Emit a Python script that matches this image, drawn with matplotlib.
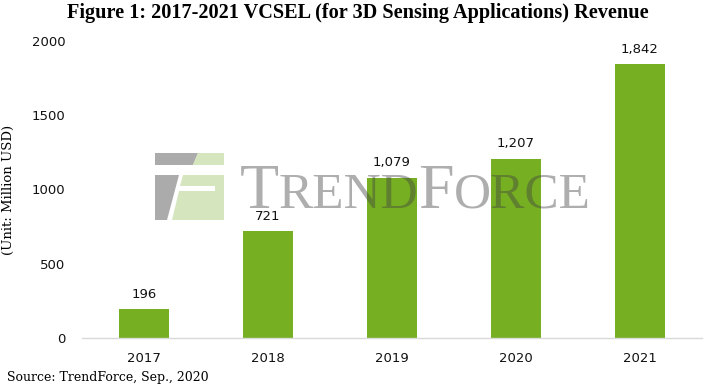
import matplotlib
matplotlib.use("Agg")
import matplotlib.pyplot as plt
from matplotlib.patches import Polygon

years = ["2017", "2018", "2019", "2020", "2021"]
revenue = [196, 721, 1079, 1207, 1842]
yticks = [0, 500, 1000, 1500, 2000]

W, H = 710, 386
fig = plt.figure(figsize=(W / 100, H / 100), dpi=100)
ax = fig.add_axes([82 / W, 1 - 338 / H, 620 / W, (338 - 41) / H])

x = range(len(years))
ax.bar(x, revenue, width=0.4, color="#76AF22", zorder=2)
for xi, v in zip(x, revenue):
    ax.annotate(f"{v:,}", (xi, v), xytext=(0, 6), textcoords="offset points",
                ha="center", va="bottom", fontsize=9.5, family="DejaVu Sans", color="#111111")

ax.set_xlim(-0.5, len(years) - 0.5)
ax.set_ylim(0, 2000)
ax.set_yticks(yticks)
ax.set_yticklabels([str(t) for t in yticks])
ax.set_xticks(list(x))
ax.set_xticklabels(years)
ax.tick_params(axis="both", length=0, labelsize=9.5, colors="#111111")
ax.tick_params(axis="y", pad=12)
ax.tick_params(axis="x", pad=10)
for s in ["top", "right", "left"]:
    ax.spines[s].set_visible(False)
ax.spines["bottom"].set_color("#D9D9D9")
ax.spines["bottom"].set_linewidth(1)

ax.set_ylabel("(Unit: Million USD)", family="DejaVu Serif", fontsize=9.5, labelpad=12)

# watermark (semi-transparent, on top of the bars)
def px(x, y):
    return (x / W, 1 - y / H)

gray = "#ABABAB"
lgreen = "#D5E6BF"
logo_gray = [[(155, 153), (198, 153), (193, 165), (155, 165)],
             [(155, 175), (179, 175), (167, 220), (155, 220)]]
logo_green = [[(198, 153), (224, 153), (224, 165), (193, 165)],
              [(183, 175), (224, 175), (224, 186), (180, 186)],
              [(215, 186), (224, 186), (224, 191), (215, 191)],
              [(179, 191), (224, 191), (224, 220), (172, 220)]]
for poly in logo_gray:
    fig.add_artist(Polygon([px(*p) for p in poly], closed=True, transform=fig.transFigure,
                           facecolor=gray, edgecolor="none", zorder=5))
for poly in logo_green:
    fig.add_artist(Polygon([px(*p) for p in poly], closed=True, transform=fig.transFigure,
                           facecolor=lgreen, edgecolor="none", zorder=5))

wm_parts = [("T", 46), ("REND", 37), ("F", 46), ("ORCE", 37)]
x0 = 240
fig.canvas.draw()
r = fig.canvas.get_renderer()
for txt, size in wm_parts:
    t = fig.text(x0 / W, 1 - 208 / H, txt, fontsize=size, family="Liberation Serif",
                 color="#404040", alpha=0.42, ha="left", va="baseline", zorder=5)
    bb = t.get_window_extent(renderer=r)
    x0 += bb.width

fig.text(358 / W, 1 - 13 / H, "Figure 1: 2017-2021 VCSEL (for 3D Sensing Applications) Revenue",
         ha="center", va="center", fontsize=14.6, fontweight="bold", family="Liberation Serif")
fig.text(7 / W, 1 - 377 / H, "Source: TrendForce, Sep., 2020", ha="left", va="center",
         fontsize=9, family="DejaVu Serif")

fig.savefig("out.png", dpi=100)
